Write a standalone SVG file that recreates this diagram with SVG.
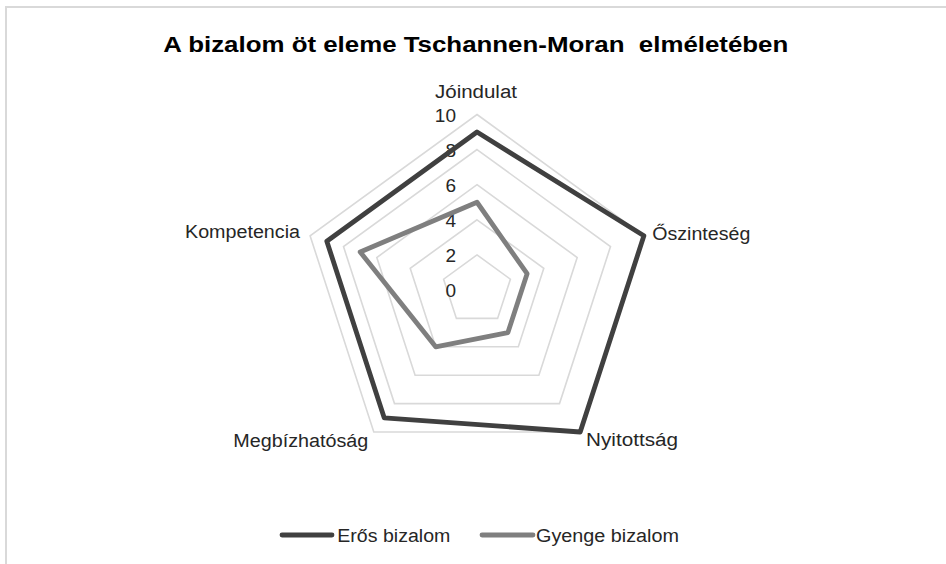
<svg xmlns="http://www.w3.org/2000/svg" width="946" height="564" viewBox="0 0 946 564">
<style>
.grid{fill:none;stroke:#d9d9d9;stroke-width:1.6}
.strong{fill:none;stroke:#404040;stroke-width:4.8;stroke-linejoin:round;stroke-linecap:round}
.weak{fill:none;stroke:#7f7f7f;stroke-width:4.8;stroke-linejoin:round;stroke-linecap:round}
.lbl{font-family:"Liberation Sans",Arial,sans-serif;font-size:18px;fill:#262626}
.tick{font-family:"Liberation Sans",Arial,sans-serif;font-size:19px;fill:#262626;text-anchor:end}
.title{font-family:"Liberation Sans",Arial,sans-serif;font-size:22px;font-weight:bold;fill:#000;white-space:pre}
</style>
<rect width="946" height="564" fill="#ffffff"/>
<path d="M6 564 V7 H946" fill="none" stroke="#d9d9d9" stroke-width="2"/>
<g id="title"><text class="title" xml:space="preserve" x="163.3" y="52.3" textLength="625" lengthAdjust="spacingAndGlyphs">A bizalom öt eleme Tschannen-Moran  elméletében</text></g>
<g id="grid">
<polygon class="grid" points="477,114.5 643.9,235.8 580.2,432 373.8,432 310.1,235.8"/>
<polygon class="grid" points="477,149.6 610.5,246.6 559.5,403.6 394.5,403.6 343.5,246.6"/>
<polygon class="grid" points="477,184.7 577.2,257.5 538.9,375.2 415.1,375.2 376.8,257.5"/>
<polygon class="grid" points="477,219.8 543.8,268.3 518.3,346.8 435.7,346.8 410.2,268.3"/>
<polygon class="grid" points="477,254.9 510.4,279.2 497.6,318.4 456.4,318.4 443.6,279.2"/>
</g>
<g id="ticks">
<text class="tick" x="456" y="122.3">10</text>
<text class="tick" x="456" y="157.3">8</text>
<text class="tick" x="456" y="192.3">6</text>
<text class="tick" x="456" y="227.3">4</text>
<text class="tick" x="456" y="262.3">2</text>
<text class="tick" x="456" y="297.3">0</text>
</g>
<g id="series-eros"><polygon class="strong" points="477,132.05 643.9,235.8 580.2,432 384.2,417.8 326.8,241.2"/></g>
<g id="series-gyenge"><polygon class="weak" points="477,202.25 527.1,273.7 507.9,332.6 435.7,346.8 360.2,252"/></g>
<g id="node-joindulat"><text class="lbl" x="435" y="98.3" textLength="82" lengthAdjust="spacingAndGlyphs">Jóindulat</text></g>
<g id="node-oszinteseg"><text class="lbl" x="652.3" y="240" textLength="98" lengthAdjust="spacingAndGlyphs">Őszinteség</text></g>
<g id="node-nyitottsag"><text class="lbl" x="586" y="445.5" textLength="92" lengthAdjust="spacingAndGlyphs">Nyitottság</text></g>
<g id="node-megbizhatosag"><text class="lbl" x="233.3" y="446.5" textLength="135" lengthAdjust="spacingAndGlyphs">Megbízhatóság</text></g>
<g id="node-kompetencia"><text class="lbl" x="185" y="238.3" textLength="115" lengthAdjust="spacingAndGlyphs">Kompetencia</text></g>
<g id="legend">
<line class="strong" x1="282" y1="535" x2="332" y2="535"/>
<text class="lbl" x="337.3" y="541.7" textLength="113" lengthAdjust="spacingAndGlyphs">Erős bizalom</text>
<line class="weak" x1="482" y1="535" x2="533" y2="535"/>
<text class="lbl" x="536" y="541.7" textLength="143" lengthAdjust="spacingAndGlyphs">Gyenge bizalom</text>
</g>
</svg>
